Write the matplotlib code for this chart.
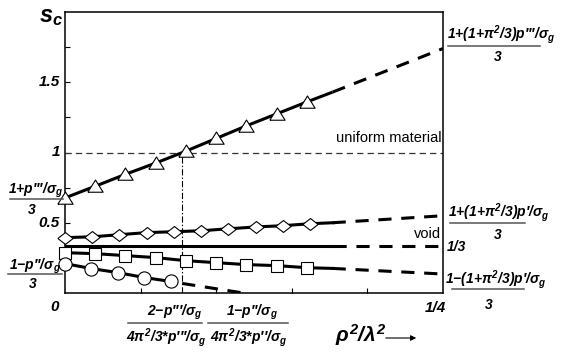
import matplotlib
matplotlib.use('Agg')
import matplotlib.pyplot as plt
from matplotlib.lines import Line2D

plt.rcParams['mathtext.fontset'] = 'custom'
plt.rcParams['mathtext.rm'] = 'Liberation Sans:italic:bold'
plt.rcParams['mathtext.it'] = 'Liberation Sans:italic:bold'
plt.rcParams['mathtext.bf'] = 'Liberation Sans:italic:bold'
plt.rcParams['mathtext.sf'] = 'Liberation Sans:italic:bold'
plt.rcParams['lines.scale_dashes'] = False

# ---------------- data ----------------
tri_x = [0.0, 0.02, 0.04, 0.06, 0.08, 0.10, 0.12, 0.14, 0.16]
tri_y = [0.677, 0.76, 0.845, 0.925, 1.01, 1.10, 1.19, 1.275, 1.36]
dia_x = [0.0, 0.018, 0.036, 0.054, 0.072, 0.090, 0.108, 0.126, 0.144, 0.162]
dia_y = [0.394, 0.40, 0.415, 0.43, 0.436, 0.443, 0.457, 0.47, 0.479, 0.493]
sq_x = [0.0, 0.02, 0.04, 0.06, 0.08, 0.10, 0.12, 0.14, 0.16]
sq_y = [0.287, 0.28, 0.266, 0.252, 0.23, 0.216, 0.202, 0.195, 0.18]
circ_x = [0.0, 0.0175, 0.035, 0.0525, 0.07]
circ_y = [0.209, 0.174, 0.145, 0.11, 0.082]

void_level = 1 / 3
uniform_level = 1.0
ext_x = [0.177, 0.25]          # solid end -> dashed extrapolation end
tri_ext = [1.43, 1.74]
dia_ext = [0.50, 0.55]
sq_ext = [0.175, 0.135]
circ_ext_x = [0.0775, 0.118]
circ_ext_y = [0.068, 0.0]
cross_x = 0.0775               # where triangle curve reaches 1

yticks = [0.25, 0.5, 0.75, 1.0, 1.25, 1.5, 1.75]
ytick_labels = ['', '0.5', '', '1', '', '1.5', '']
xticks = [0.05, 0.10, 0.15, 0.20]

P1, P2, P3 = '\u2032', '\u2032\u2032', '\u2032\u2032\u2032'

# ---------------- figure ----------------
W, H = 564, 352
fig = plt.figure(figsize=(W / 100, H / 100), dpi=100)
ax = fig.add_axes([65 / W, 1 - 293 / H, 378 / W, 281 / H])
ax.set_xlim(0, 0.25)
ax.set_ylim(0, 2)

LW = 2.2
DASH = (9.5, 7)
mk = dict(mfc='white', mec='black', mew=0.8, ls='none', clip_on=False, zorder=5)

tri_marker = [(-1, -0.75), (1, -0.75), (0, 0.85), (-1, -0.75)]
dia_marker = [(-1, 0), (0, 0.78), (1, 0), (0, -0.78), (-1, 0)]

# triangles
ax.plot(tri_x + [ext_x[0]], tri_y + [tri_ext[0]], color='k', lw=LW, solid_capstyle='butt')
ax.plot(ext_x, tri_ext, color='k', lw=LW, dashes=DASH)
ax.plot(tri_x, tri_y, marker=tri_marker, ms=11, **mk)

# diamonds
ax.plot(dia_x + [ext_x[0]], dia_y + [dia_ext[0]], color='k', lw=LW)
ax.plot(ext_x, dia_ext, color='k', lw=LW, dashes=DASH)
ax.plot(dia_x, dia_y, marker=dia_marker, ms=11, **mk)

# void level 1/3
ax.plot([0, ext_x[0]], [void_level, void_level], color='k', lw=LW)
ax.plot(ext_x, [void_level, void_level], color='k', lw=LW, dashes=DASH)

# squares
ax.plot(sq_x + [ext_x[0]], sq_y + [sq_ext[0]], color='k', lw=LW)
ax.plot(ext_x, sq_ext, color='k', lw=LW, dashes=DASH)
ax.plot(sq_x, sq_y, marker='s', ms=9, **mk)

# circles
ax.plot(circ_x, circ_y, color='k', lw=LW)
ax.plot(circ_ext_x, circ_ext_y, color='k', lw=LW, dashes=DASH)
ax.plot(circ_x, circ_y, marker='o', ms=9.5, **mk)

# uniform material line & crossing
ax.plot([0, 0.25], [uniform_level, uniform_level], color='#333333', lw=0.9, dashes=(4.5, 3))
ax.plot([cross_x, cross_x], [0, uniform_level], color='k', lw=0.8, dashes=(4.5, 1.5, 1, 1.5))

ax.text(0.249, uniform_level + 0.05, 'uniform material', ha='right', va='bottom',
        fontsize=10.5, family='Liberation Sans')
ax.text(0.249, void_level + 0.04, 'void', ha='right', va='bottom',
        fontsize=10.5, family='Liberation Sans')

for s in ax.spines.values():
    s.set_linewidth(1.1)
ax.set_yticks(yticks)
ax.set_yticklabels([])
ax.set_xticks(xticks)
ax.set_xticklabels([])
ax.tick_params(direction='in', length=3.5, width=0.8)

# ---------------- texts ----------------
bi = dict(family='Liberation Sans', weight='bold', style='italic')
FS = 10


def T(x, y, s, size=FS, ha='center', va='center', **kw):
    fig.text(x / W, 1 - y / H, s, ha=ha, va=va, fontsize=size, **kw)


def hline(x0, x1, y):
    fig.add_artist(Line2D([x0 / W, x1 / W], [1 - y / H, 1 - y / H],
                          color='#555555', lw=1.1, transform=fig.transFigure))


for v, lab in zip(yticks, ytick_labels):
    if lab:
        py = 293.5 - v * 141
        T(60, py, lab, size=11, ha='right', **bi)

T(55, 307, '0', size=11, **bi)
T(435, 308, '1/4', size=11, **bi)

T(39, 22, r'$s_c$', size=17, ha='left', va='baseline')

# left fractions
T(36, 190, r'$1{+}p' + P3 + r'/\sigma_g$')
hline(10, 63, 199)
T(32, 210, r'$3$')

T(35, 266, r'$1{-}p' + P2 + r'/\sigma_g$')
hline(8, 62, 274)
T(33, 284, r'$3$')

# bottom fractions
T(175, 312, r'$2{-}p' + P3 + r'/\sigma_g$')
hline(128, 202, 323)
T(166, 338, r'$4\pi^2/3{*}p' + P3 + r'/\sigma_g$')

T(252, 312, r'$1{-}p' + P2 + r'/\sigma_g$')
hline(208, 288, 323)
T(249, 338, r'$4\pi^2/3{*}p' + P2 + r'/\sigma_g$')

# x-axis label with arrow
T(335, 342, r'$\rho^2/\lambda^2$', size=15, ha='left', va='baseline')
fig.add_artist(matplotlib.patches.FancyArrowPatch(
    (383 / W, 1 - 338 / H), (419 / W, 1 - 338 / H), transform=fig.transFigure,
    arrowstyle='-|>', mutation_scale=8, lw=0.8, color='k'))

# right fractions
T(501, 35, r'$1{+}(1{+}\pi^2/3)p' + P3 + r'/\sigma_g$')
hline(448, 540, 46)
T(498, 57, r'$3$')

T(499, 213, r'$1{+}(1{+}\pi^2/3)p' + P1 + r'/\sigma_g$')
hline(450, 525, 223)
T(498, 235, r'$3$')

T(447, 247, '1/3', size=10, ha='left', **bi)

T(496, 280, r'$1{-}(1{+}\pi^2/3)p' + P1 + r'/\sigma_g$')
hline(452, 524, 289)
T(489, 305, r'$3$')

fig.savefig('out.png', dpi=100)
